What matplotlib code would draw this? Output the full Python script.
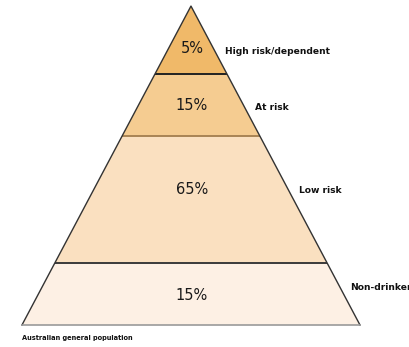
import matplotlib
matplotlib.use("Agg")
import matplotlib.pyplot as plt
from matplotlib.patches import Polygon

# Drinking risk levels, top of the pyramid first
levels = ["High risk/dependent", "At risk", "Low risk", "Non-drinkers"]
shares = [5, 15, 65, 15]

# layer edges as a fraction of pyramid height
layer_tops = [1.0, 0.786, 0.592, 0.193]
layer_bottoms = [0.786, 0.592, 0.193, 0.0]
pct_y = [0.868, 0.687, 0.426, 0.094]
name_y = [0.859, 0.683, 0.421, 0.116]
colors = ["#F0B969", "#F5CC91", "#FAE0C0", "#FDF0E4"]
divider_colors = ["#222222", "#A88454", "#3a3a3a"]

fig = plt.figure(figsize=(4.10, 3.47), dpi=100)
ax = fig.add_axes([0, 0, 1, 1])
ax.set_xlim(-1.130, 1.296)
ax.set_ylim(-0.069, 1.019)
ax.axis("off")

def half_width(h):
    return 1.0 - h

for i, (name, pct) in enumerate(zip(levels, shares)):
    t, b = layer_tops[i], layer_bottoms[i]
    pts = [(-half_width(b), b), (half_width(b), b),
           (half_width(t), t), (-half_width(t), t)]
    ax.add_patch(Polygon(pts, closed=True, facecolor=colors[i], edgecolor="none"))
    ax.text(0.005, pct_y[i], f"{pct}%", ha="center", va="center", fontsize=10.5,
            color="#1a1a1a")
    # side label just outside the right edge
    ax.text(half_width(name_y[i]) + 0.06, name_y[i], name, ha="left", va="center",
            fontsize=6.6, fontweight="bold", color="#111111")

# dividers between layers
for h, c in zip(layer_bottoms[:-1], divider_colors):
    ax.plot([-half_width(h), half_width(h)], [h, h], color=c, lw=1.4,
            solid_capstyle="butt")

# sloping sides and base
ax.plot([-1, 0, 1], [0, 1, 0], color="#333333", lw=1.0)
ax.plot([-1, 1], [0, 0], color="#9a9a9a", lw=1.2)

ax.text(-1.0, -0.04, "Australian general population", ha="left", va="center",
        fontsize=4.8, fontweight="bold", color="#111111")

fig.savefig("out.png", dpi=100)
